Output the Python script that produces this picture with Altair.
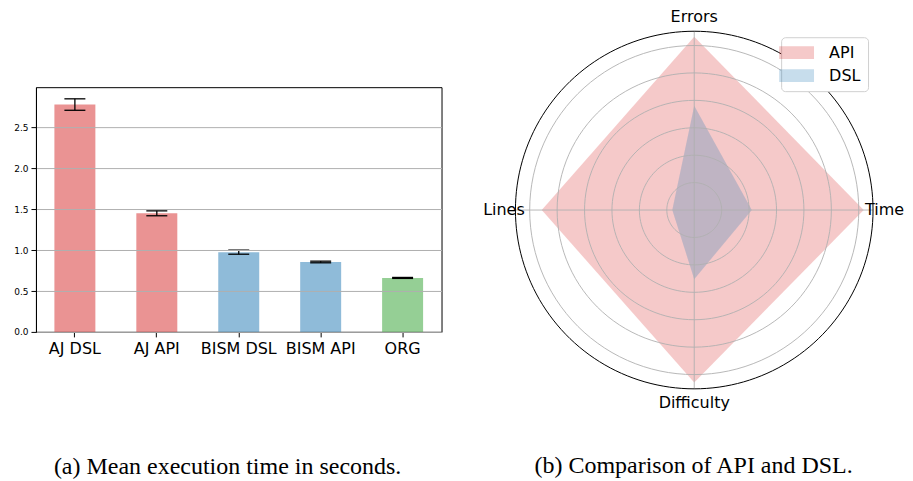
import altair as alt
import pandas as pd

# ---------------- data: panel (a) ----------------
bar_cats = ["AJ DSL", "AJ API", "BISM DSL", "BISM API", "ORG"]
bar_means = [2.78, 1.45, 0.975, 0.855, 0.66]
bar_errs = [0.07, 0.03, 0.025, 0.01, 0.006]
bar_colors = ["#d62728", "#d62728", "#1f77b4", "#1f77b4", "#2ca02c"]
y_ticks = [0.0, 0.5, 1.0, 1.5, 2.0, 2.5]
y_max = 2.9925

# ---------------- data: panel (b) ----------------
radar_axes = ["Time", "Errors", "Lines", "Difficulty"]
api_values = [6.18, 6.32, 5.56, 6.29]
dsl_values = [2.10, 3.80, 0.80, 2.52]
ring_ticks = [1, 2, 3, 4, 5, 6]
r_max = 6.52
series_names = ["API", "DSL"]
series_colors = ["#d62728", "#1f77b4"]

captions = ["(a) Mean execution time in seconds.", "(b) Comparison of API and DSL."]

# ---------------- layout constants ----------------
L_W, L_H = 406, 245
R_W, R_H = 358, 246
PX = (R_W / 2) / r_max            # pixels per radar unit
LABEL_R = 193.5 / PX
H_INSET = 3 / PX
Y_HALF = (R_H / 2) / PX
CAP_FONT = "Liberation Serif"
FONT = "DejaVu Sans"

# ---------------- panel (a) ----------------
bar_df = pd.DataFrame({"cat": bar_cats, "mean": bar_means, "err": bar_errs})

x_axis = alt.Axis(title=None, labelAngle=0, labelFontSize=16, labelFont=FONT,
                  labelColor="black", tickSize=5, tickColor="black",
                  domainColor="black", labelPadding=4, grid=False)
x_enc = alt.X("cat:N", sort=bar_cats, axis=x_axis,
              scale=alt.Scale(paddingInner=0.5, paddingOuter=0.225))
y_axis = alt.Axis(title=None, values=y_ticks, format=".1f", grid=True,
                  gridColor="#b0b0b0", gridWidth=1, labelFontSize=9,
                  labelFont=FONT, labelColor="black", tickSize=5,
                  tickColor="black", domainColor="black", labelPadding=3,
                  zindex=1)
y_scale = alt.Scale(domain=[0, y_max], nice=False, zero=True)

base = alt.Chart(bar_df)
bars = base.mark_bar(opacity=0.5).encode(
    x=x_enc,
    y=alt.Y("mean:Q", scale=y_scale, axis=y_axis),
    color=alt.Color("cat:N", scale=alt.Scale(domain=bar_cats, range=bar_colors),
                    legend=None),
)
errb = base.transform_calculate(lo="datum.mean - datum.err",
                                hi="datum.mean + datum.err")
err_rule = errb.mark_rule(color="black", strokeWidth=1.3).encode(
    x=x_enc, y=alt.Y("lo:Q", scale=y_scale, axis=y_axis), y2="hi:Q")
cap_lo = errb.mark_tick(color="black", size=21, thickness=1.3, opacity=1).encode(
    x=x_enc, y=alt.Y("lo:Q", scale=y_scale, axis=y_axis))
cap_hi = errb.mark_tick(color="black", size=21, thickness=1.3, opacity=1).encode(
    x=x_enc, y=alt.Y("hi:Q", scale=y_scale, axis=y_axis))

left = alt.layer(bars, err_rule, cap_lo, cap_hi).properties(
    width=L_W, height=L_H,
    view=alt.ViewBackground(stroke="black", strokeWidth=1),
    title=alt.TitleParams(text=captions[0], orient="bottom", anchor="middle",
                          frame="bounds", fontSize=24, font=CAP_FONT,
                          fontWeight="normal", color="black", offset=98),
)

# ---------------- panel (b) ----------------
n_ax = len(radar_axes)
poly_df = pd.DataFrame({
    "axis": radar_axes * 2,
    "idx": list(range(n_ax)) * 2,
    "r": api_values + dsl_values,
    "series": ["API"] * n_ax + ["DSL"] * n_ax,
})
axes_df = pd.DataFrame({"axis": radar_axes, "idx": list(range(n_ax))})

xs = alt.Scale(domain=[-r_max, r_max], nice=False, zero=False)
ys = alt.Scale(domain=[-Y_HALF, Y_HALF], nice=False, zero=False)
X = lambda f: alt.X(f, scale=xs, axis=None)
Y = lambda f: alt.Y(f, scale=ys, axis=None)
ang = f"(datum.idx * 2 * PI / {n_ax})"

poly = alt.Chart(poly_df).transform_calculate(
    px=f"datum.r * cos({ang})", py=f"datum.r * sin({ang})"
).mark_line(fillOpacity=0.25, strokeOpacity=0, interpolate="linear-closed").encode(
    x=X("px:Q"), y=Y("py:Q"), order="idx:Q",
    fill=alt.Fill("series:N",
                  scale=alt.Scale(domain=series_names, range=series_colors),
                  legend=alt.Legend(
                      title=None, orient="none", legendX=266, legendY=-50,
                      labelFontSize=16, labelFont=FONT, labelColor="black",
                      symbolType="M-2.05,-0.75H2.05V0.75H-2.05Z",
                      symbolSize=289, symbolOpacity=0.25, symbolStrokeWidth=0,
                      labelOffset=24, rowPadding=6, padding=7,
                      fillColor="white", strokeColor="#d0d0d0",
                      cornerRadius=4)),
)

rings = alt.Chart(alt.sequence(0, 360, 3, as_="deg")).transform_calculate(
    ring=str(ring_ticks)
).transform_flatten(["ring"]).transform_calculate(
    px="datum.ring * cos(datum.deg * PI / 180)",
    py="datum.ring * sin(datum.deg * PI / 180)",
).mark_line(color="#b0b0b0", strokeWidth=0.9, interpolate="linear-closed").encode(
    x=X("px:Q"), y=Y("py:Q"), detail="ring:N", order="deg:Q")

spokes = alt.Chart(axes_df).transform_calculate(
    ox="0", oy="0",
    px=f"{r_max} * cos({ang})", py=f"{r_max} * sin({ang})",
).mark_rule(color="#b0b0b0", strokeWidth=0.9).encode(
    x=X("ox:Q"), y=Y("oy:Q"), x2="px:Q", y2="py:Q")

outer = alt.Chart(alt.sequence(0, 360, 2, as_="deg")).transform_calculate(
    px=f"{r_max} * cos(datum.deg * PI / 180)",
    py=f"{r_max} * sin(datum.deg * PI / 180)",
).mark_line(color="black", strokeWidth=1, interpolate="linear-closed").encode(
    x=X("px:Q"), y=Y("py:Q"), order="deg:Q")

labels = alt.Chart(axes_df).transform_calculate(
    lr=f"{LABEL_R} - {H_INSET} * abs(cos({ang}))",
).transform_calculate(
    px=f"datum.lr * cos({ang})", py=f"datum.lr * sin({ang})",
).mark_text(fontSize=16, font=FONT, color="black", align="center",
            baseline="middle").encode(x=X("px:Q"), y=Y("py:Q"), text="axis:N")

right = alt.layer(poly, rings, spokes, outer, labels).properties(
    width=R_W, height=R_H,
    view=alt.ViewBackground(stroke="transparent"),
    title=alt.TitleParams(text=captions[1], orient="bottom", anchor="middle",
                          frame="bounds", fontSize=24, font=CAP_FONT,
                          fontWeight="normal", color="black", offset=43),
)

chart = alt.hconcat(left, right, spacing=74, bounds="flush").properties(
    padding={"left": 5, "top": -1, "right": 0, "bottom": 0}
).resolve_scale(color="independent", fill="independent")

chart.save("out.html", embed_options={"renderer": "svg", "actions": False})
